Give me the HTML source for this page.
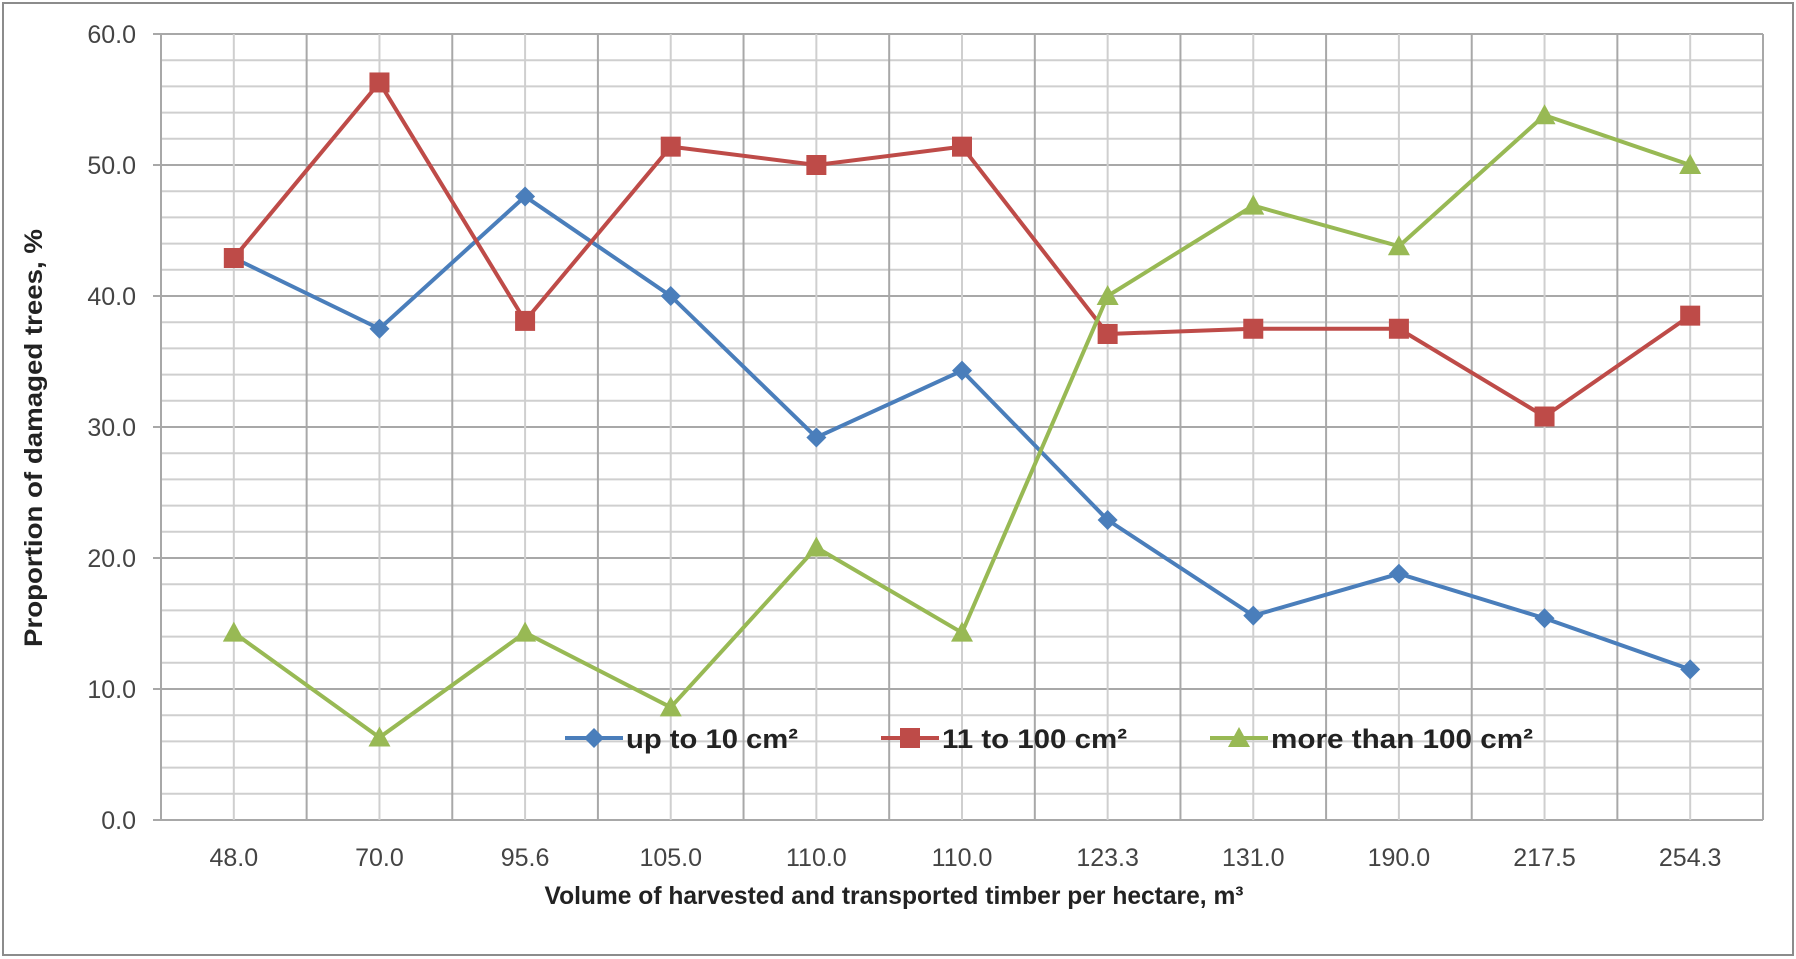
<!DOCTYPE html>
<html><head><meta charset="utf-8"><style>
body{margin:0;background:#fff}
svg{display:block;font-family:"Liberation Sans",sans-serif}
</style></head><body>
<svg id="c" width="1796" height="959" xmlns="http://www.w3.org/2000/svg">
<rect x="3" y="3" width="1790" height="952" fill="#fff" stroke="#8c8c8c" stroke-width="2"/>
<g id="grid"></g><g id="axes"></g><g id="series"></g>
<text x="42" y="438" transform="rotate(-90 42 438)" text-anchor="middle" font-size="25" font-weight="bold" fill="#222" textLength="418" lengthAdjust="spacingAndGlyphs">Proportion of damaged trees, %</text>
<text x="894" y="904" text-anchor="middle" font-size="25" font-weight="bold" fill="#222" textLength="699" lengthAdjust="spacingAndGlyphs">Volume of harvested and transported timber per hectare, m³</text>
<g id="legend"></g>
</svg>
<script>
const categories=["48.0","70.0","95.6","105.0","110.0","110.0","123.3","131.0","190.0","217.5","254.3"];
const seriesNames=["up to 10 cm²","11 to 100 cm²","more than 100 cm²"];
const blueVals=[42.9,37.5,47.6,40.0,29.2,34.3,22.9,15.6,18.8,15.4,11.5];
const redVals=[42.9,56.3,38.1,51.4,50.0,51.4,37.1,37.5,37.5,30.8,38.5];
const greenVals=[14.3,6.3,14.3,8.6,20.8,14.3,40.0,46.9,43.8,53.8,50.0];
const yTicks=[0,10,20,30,40,50,60];
const NS="http://www.w3.org/2000/svg";
const L=161,R=1763,T=34,B=820,yMax=60;
const bw=(R-L)/categories.length;
const x=i=>L+bw*(i+0.5);
const y=v=>B-(v/yMax)*(B-T);
function mk(tag,attrs,parent){const e=document.createElementNS(NS,tag);for(const k in attrs)e.setAttribute(k,attrs[k]);parent.appendChild(e);return e;}
const grid=document.getElementById('grid'),axes=document.getElementById('axes'),ser=document.getElementById('series'),leg=document.getElementById('legend');
for(let v=0;v<=yMax;v+=2){const l=mk('line',{x1:L,x2:R,y1:y(v),y2:y(v),stroke:v%10==0?'#a8a8a8':'#cfcfcf','stroke-width':2},grid);

}
for(let i=0;i<=categories.length*2;i++){const xx=L+bw*i/2;const l=mk('line',{x1:xx,x2:xx,y1:T,y2:B,stroke:i%2==0?'#a8a8a8':'#cfcfcf','stroke-width':2},grid);

}
yTicks.forEach(v=>{const t=mk('text',{x:136,y:y(v)+9,'text-anchor':'end','font-size':25,fill:'#444'},axes);t.textContent=v.toFixed(1);


const tk=mk('line',{x1:153,x2:L,y1:y(v),y2:y(v),stroke:'#a8a8a8','stroke-width':2},axes);

});
categories.forEach((c,i)=>{const t=mk('text',{x:x(i),y:866,'text-anchor':'middle','font-size':25,fill:'#444'},axes);t.textContent=c;

});
const colors=['#4a7ebb','#be4b48','#98b954'];
const shapes=['diamond','square','triangle'];
function marker(shape,cx,cy,col,p){let e;
if(shape=='diamond')e=mk('polygon',{points:`${cx},${cy-10} ${cx+10},${cy} ${cx},${cy+10} ${cx-10},${cy}`,fill:col},p);
else if(shape=='square')e=mk('rect',{x:cx-10,y:cy-10,width:20,height:20,fill:col},p);
else e=mk('polygon',{points:`${cx},${cy-11} ${cx+11},${cy+9} ${cx-11},${cy+9}`,fill:col},p);
return e;}
[blueVals,redVals,greenVals].forEach((vals,s)=>{
const pl=mk('polyline',{points:vals.map((v,i)=>x(i)+','+y(v)).join(' '),fill:'none',stroke:colors[s],'stroke-width':4,'stroke-linejoin':'round'},ser);


vals.forEach((v,i)=>{const m=marker(shapes[s],x(i),y(v),colors[s],ser);

});
});
const legX=[565,881,1210];
const legW=[172,185,262];
seriesNames.forEach((n,s)=>{const ly=738;
const l=mk('line',{x1:legX[s],x2:legX[s]+58,y1:ly,y2:ly,stroke:colors[s],'stroke-width':4},leg);


const m=marker(shapes[s],legX[s]+29,ly,colors[s],leg);


const t=mk('text',{x:legX[s]+61,y:ly+10,'font-size':27,'font-weight':'bold',fill:'#222',textLength:legW[s],lengthAdjust:'spacingAndGlyphs'},leg);t.textContent=n;


});
</script>
</body></html>
